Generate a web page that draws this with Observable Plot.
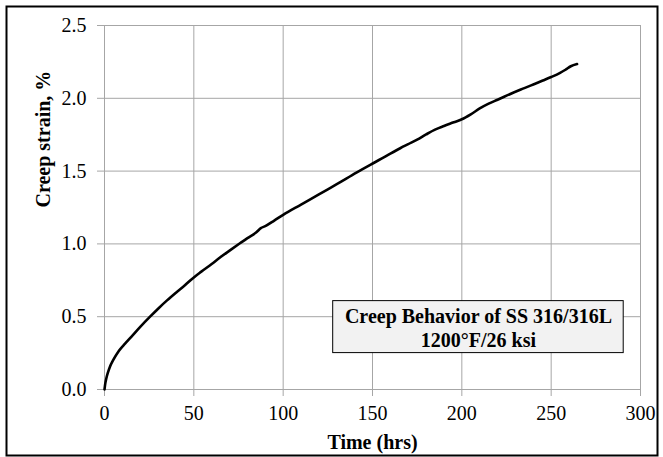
<!DOCTYPE html>
<html>
<head>
<meta charset="utf-8">
<script src="https://cdn.jsdelivr.net/npm/d3@7"></script>
<script src="https://cdn.jsdelivr.net/npm/@observablehq/plot@0.6"></script>
<style>
  html, body { margin: 0; padding: 0; background: #fff; }
  #chart svg { display: block; }
</style>
</head>
<body>
<div id="chart"></div>
<script>
// Creep curve (time in hrs, strain in %)
const timeHrs = [0, 0.3, 1, 2, 3, 5, 8, 11.5, 15, 20, 25.5, 30, 35, 40, 45, 50, 54, 60, 65, 70, 76, 80, 85, 87.5, 90, 95, 100, 110, 120, 125, 130, 141, 149, 155, 160, 165.5, 170, 175, 180, 185, 190, 195.5, 200, 205, 210, 215, 220, 229, 235, 240, 245, 250, 255, 258, 261, 264.5];
const strainPct = [0, 0.03, 0.075, 0.12, 0.155, 0.205, 0.265, 0.315, 0.362, 0.43, 0.5, 0.555, 0.612, 0.665, 0.716, 0.77, 0.808, 0.862, 0.91, 0.954, 1.006, 1.04, 1.08, 1.108, 1.122, 1.16, 1.2, 1.27, 1.34, 1.375, 1.41, 1.49, 1.545, 1.585, 1.62, 1.657, 1.685, 1.716, 1.752, 1.785, 1.81, 1.835, 1.856, 1.89, 1.93, 1.963, 1.99, 2.04, 2.07, 2.095, 2.12, 2.146, 2.175, 2.196, 2.22, 2.235];

const xTicks = [0, 50, 100, 150, 200, 250, 300];
const yTicks = [0, 0.5, 1.0, 1.5, 2.0, 2.5];

const xTitle = "Time (hrs)";
const yTitle = "Creep strain, %";
const boxLines = ["Creep Behavior of SS 316/316L", "1200°F/26 ksi"];
// annotation box extent in data units
const boxX = [128, 290.6];
const boxY = [0.25, 0.607];

const data = timeHrs.map((t, i) => ({t, s: strainPct[i]}));
const grid = "#a6a6a6";
const font = "'Liberation Serif', 'Times New Roman', serif";

const chart = Plot.plot({
  width: 663,
  height: 457,
  marginLeft: 104,
  marginRight: 23,
  marginTop: 25,
  marginBottom: 68,
  style: {fontFamily: font, fontSize: "20px", background: "#fff", color: "#000"},
  x: {domain: [0, 300]},
  y: {domain: [0, 2.5]},
  marks: [
    Plot.frame({stroke: "#000", strokeWidth: 2, insetLeft: -98, insetTop: -19, insetRight: -17, insetBottom: -66}),
    Plot.gridX(xTicks, {stroke: grid, strokeOpacity: 1, strokeWidth: 1}),
    Plot.gridY(yTicks, {stroke: grid, strokeOpacity: 1, strokeWidth: 1}),
    Plot.axisX({ticks: xTicks, tickSize: 7, tickPadding: 9.5, stroke: grid, fill: "#000", label: null, fontSize: 20, fontFamily: font}),
    Plot.axisY({ticks: yTicks, tickSize: 7, tickPadding: 11, stroke: grid, fill: "#000", label: null, tickFormat: d3.format(".1f"), fontSize: 20, fontFamily: font}),
    Plot.line(data, {x: "t", y: "s", stroke: "#000", strokeWidth: 2.6, curve: "monotone-x"}),
    Plot.rect([{x1: boxX[0], x2: boxX[1], y1: boxY[0], y2: boxY[1]}], {x1: "x1", x2: "x2", y1: "y1", y2: "y2", fill: "#f2f2f2", stroke: "#000", strokeWidth: 1}),
    Plot.text([boxLines.join("\n")], {x: (boxX[0] + boxX[1]) / 2, y: (boxY[0] + boxY[1]) / 2, text: d => d, fontWeight: "bold", fontSize: 20, fontFamily: font, lineHeight: 1.2, fill: "#000", textAnchor: "middle", lineAnchor: "middle"}),
    Plot.text([xTitle], {frameAnchor: "bottom", text: d => d, dy: 53, fontWeight: "bold", fontSize: 20, fontFamily: font, fill: "#000", lineAnchor: "middle"}),
    Plot.text([yTitle], {frameAnchor: "left", text: d => d, dx: -61, rotate: -90, fontWeight: "bold", fontSize: 20, fontFamily: font, fill: "#000", lineAnchor: "middle"})
  ]
});
document.getElementById("chart").appendChild(chart);
</script>
</body>
</html>
